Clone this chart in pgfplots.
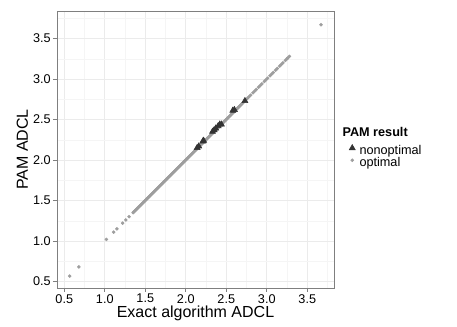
\documentclass[border=0pt]{standalone}
\usepackage{pgfplots}
\pgfplotsset{compat=1.18}
\usepackage{fontspec}
\setmainfont{Liberation Sans}
\definecolor{optgray}{HTML}{9E9E9E}
\definecolor{nonopt}{HTML}{333333}
\definecolor{framegray}{HTML}{7F7F7F}
\definecolor{gridmaj}{HTML}{EBEBEB}
\definecolor{gridmin}{HTML}{F5F5F5}

\begin{document}
\begin{tikzpicture}
\begin{axis}[at={(0pt,0pt)},anchor=south west,scale only axis,
  width=207.75pt,height=207.75pt,
  xmin=0.41,xmax=3.83,ymin=0.42,ymax=3.84,
  xtick={0.5,1,...,3.5},ytick={0.5,1,...,3.5},
  minor xtick={0.75,1.25,...,3.75},minor ytick={0.75,1.25,...,3.75},
  xticklabels={0.5,1.0,1.5,2.0,2.5,3.0,3.5},
  yticklabels={0.5,1.0,1.5,2.0,2.5,3.0,3.5},
  grid=both,major grid style={gridmaj,line width=0.5pt},minor grid style={gridmin,line width=0.4pt},
  axis line style={framegray,line width=0.6pt},
  tick style={framegray,line width=0.6pt},tick align=outside,major tick length=3pt,minor tick length=0pt,
  xtick pos=bottom,ytick pos=left,
  /pgf/number format/assume math mode=true,
  ticklabel style={font=\fontsize{9.5}{11}\selectfont,text=black,inner sep=1.5pt},
  xlabel={Exact algorithm ADCL},ylabel={PAM ADCL},
  label style={font=\fontsize{12}{14}\selectfont},
  xlabel style={at={(axis description cs:0.5,-0.108)},anchor=base},
  ylabel style={at={(axis description cs:-0.105,0.5)},anchor=base},
  clip mode=individual,
  legend image code/.code={\path (-3pt,0pt) (3pt,0pt);\draw[#1] plot coordinates {(0pt,2.2pt)};},
  legend style={draw=none,fill=none,font=\fontsize{9.5}{11}\selectfont,
    at={(axis description cs:1.0505,0.581)},anchor=north west,inner sep=0pt,outer sep=0pt,
    row sep=0.75pt,nodes={inner sep=0pt},
    /tikz/every odd column/.style={column sep=2.25pt}},
  legend cell align=left]
% optimal: PAM equals exact ADCL
\addplot[only marks,mark=*,mark size=1.1pt,color=optgray,forget plot] table[x index=0,y index=0,header=false] {
0.567
0.680
1.020
1.110
1.150
1.220
1.260
1.300
1.350
1.360
1.370
1.380
1.390
1.400
1.410
1.420
1.430
1.440
1.450
1.460
1.470
1.480
1.490
1.500
1.510
1.520
1.530
1.540
1.550
1.560
1.570
1.580
1.590
1.600
1.610
1.620
1.630
1.640
1.650
1.660
1.670
1.680
1.690
1.700
1.710
1.720
1.730
1.740
1.750
1.760
1.770
1.780
1.790
1.800
1.810
1.820
1.830
1.840
1.850
1.860
1.870
1.880
1.890
1.900
1.910
1.920
1.930
1.940
1.950
1.960
1.970
1.980
1.990
2.000
2.010
2.020
2.030
2.040
2.050
2.060
2.070
2.080
2.090
2.100
2.110
2.120
2.130
2.140
2.150
2.160
2.170
2.180
2.190
2.200
2.210
2.220
2.230
2.240
2.250
2.260
2.270
2.280
2.290
2.300
2.310
2.320
2.330
2.340
2.350
2.360
2.370
2.380
2.390
2.400
2.410
2.420
2.430
2.440
2.450
2.460
2.470
2.480
2.490
2.500
2.510
2.520
2.530
2.540
2.550
2.560
2.570
2.580
2.590
2.600
2.610
2.620
2.630
2.640
2.650
2.660
2.670
2.680
2.690
2.700
2.720
2.740
2.760
2.780
2.800
2.830
2.850
2.870
2.900
2.920
2.940
2.970
2.990
3.010
3.040
3.060
3.080
3.110
3.130
3.160
3.180
3.200
3.230
3.250
3.260
3.280
3.670
};
\addlegendimage{empty legend}
\addlegendentry{\hspace{-12.75pt}\raisebox{4pt}{\textbf{PAM result}}}
\addlegendimage{mark=triangle*,mark size=2.6pt,color=nonopt}
\addlegendentry{nonoptimal}
\addlegendimage{mark=*,mark size=1.1pt,color=optgray}
\addlegendentry{optimal}
% nonoptimal: PAM above exact ADCL
\addplot[only marks,mark=triangle*,mark size=2.6pt,color=nonopt,forget plot] coordinates {
(2.14,2.15) (2.16,2.17) (2.21,2.23) (2.22,2.24) (2.33,2.35) (2.35,2.37)
(2.37,2.39) (2.40,2.42) (2.42,2.44) (2.44,2.44) (2.58,2.61) (2.60,2.62) (2.73,2.73)};
\end{axis}
\pgfresetboundingbox
\path[use as bounding box] (-42.75pt,-29.25pt) rectangle (300pt,216pt);
\end{tikzpicture}
\end{document}
